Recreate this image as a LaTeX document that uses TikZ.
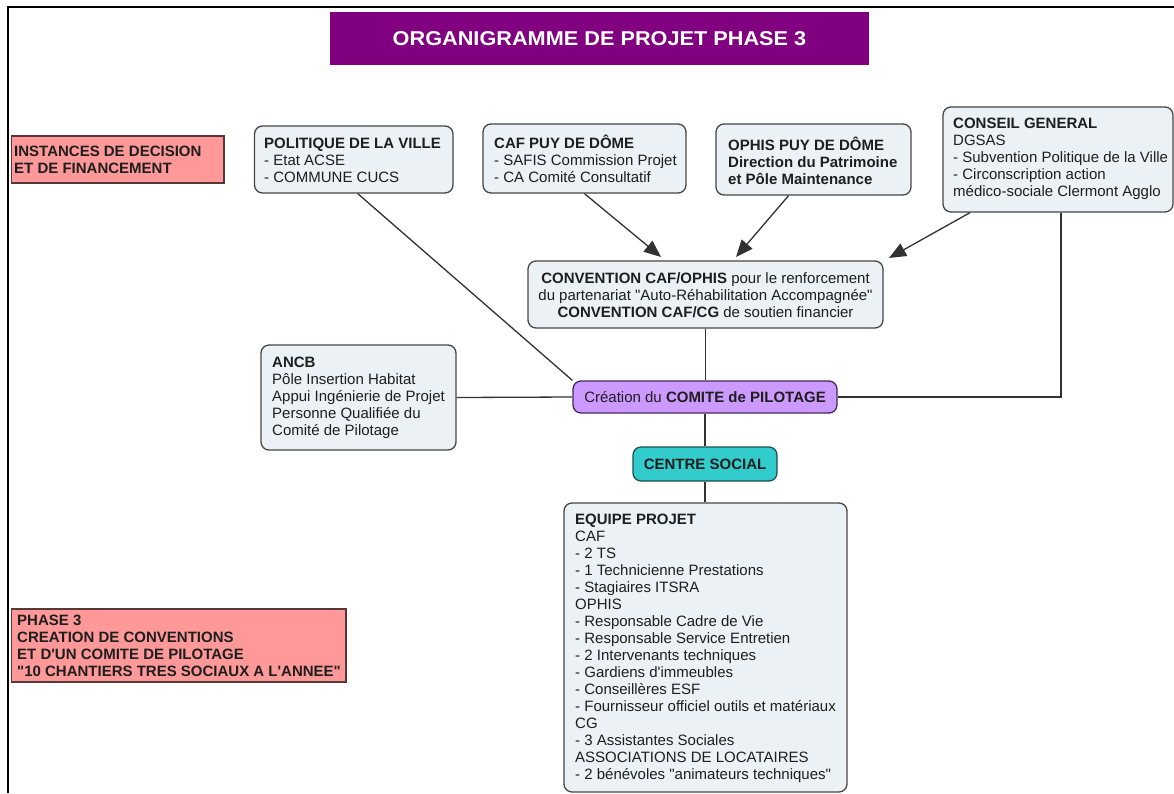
\documentclass[tikz,border=0pt]{standalone}
\usepackage{fontspec}
\setmainfont{Liberation Sans}
\usetikzlibrary{arrows.meta,calc}
\definecolor{boxfill}{RGB}{235,241,244}
\definecolor{boxline}{RGB}{70,70,70}
\definecolor{txt}{RGB}{30,30,30}
\definecolor{salmon}{RGB}{255,153,153}
\definecolor{salmonline}{RGB}{90,55,55}
\definecolor{titlepurple}{RGB}{128,0,128}
\definecolor{lilac}{RGB}{204,153,255}
\definecolor{lilacline}{RGB}{70,40,90}
\definecolor{teal2}{RGB}{51,204,204}
\definecolor{tealline}{RGB}{30,80,80}
\definecolor{linec}{RGB}{50,50,50}
\newcommand\bodyfont{\fontsize{15}{17}\selectfont}
\newcommand\ttlfont{\fontsize{20}{24}\selectfont\bfseries}
\newcommand\dq{\textquotedbl}
\newcommand\sq{\textquotesingle}
\tikzset{
  lbox/.style={draw=boxline, fill=boxfill, rounded corners=8pt, line width=1.3pt,
    inner sep=0pt},
  pinkbox/.style={draw=salmonline, fill=salmon, line width=1.3pt, inner sep=0pt},
  ltext/.style={anchor=west, inner sep=0pt, align=left, font=\bodyfont, text=txt},
  ctext/.style={inner sep=0pt, align=center, font=\bodyfont, text=txt},
  conn/.style={draw=linec, line width=1.3pt},
  arr/.style={-{Triangle[length=17pt,width=14pt]}}
}
\begin{document}
\begin{tikzpicture}[x=1pt,y=-1pt]
\useasboundingbox (0,0) rectangle (1174,793);
\fill[white] (0,0) rectangle (1174,793);
\draw[line width=2pt, black] (8,793) -- (8,7) -- (1174,7);

% title
\node[fill=titlepurple, minimum width=539pt, minimum height=53pt, inner sep=0pt, text=white, font=\ttlfont]
  (title) at (599.5,38.5) {\scalebox{1.085}[1]{ORGANIGRAMME DE PROJET PHASE 3}};

% side labels
\node[pinkbox, minimum width=212.5pt, minimum height=47pt] (inst) at (117.75,159.5) {};
\node[ltext, font=\bodyfont\bfseries] (instT) at (14,160) {INSTANCES DE DECISION\\ET DE FINANCEMENT};
\node[pinkbox, minimum width=334.5pt, minimum height=73pt] (phase) at (178.75,645.5) {};
\node[ltext, font=\bodyfont\bfseries] (phaseT) at (17,646)
  {PHASE 3\\CREATION DE CONVENTIONS\\ET D\sq UN COMITE DE PILOTAGE\\\dq 10 CHANTIERS TRES SOCIAUX A L\sq ANNEE\dq};

% top row
\node[lbox, minimum width=198.5pt, minimum height=67pt] (pol) at (353.75,159.5) {};
\node[ltext] (polT) at (264,160) {\textbf{POLITIQUE DE LA VILLE}\\- Etat ACSE\\- COMMUNE CUCS};
\node[lbox, minimum width=203pt, minimum height=69pt] (caf) at (584.5,158.5) {};
\node[ltext] (cafT) at (494,159) {\textbf{CAF PUY DE DÔME}\\- SAFIS Commission Projet\\- CA Comité Consultatif};
\node[lbox, minimum width=195pt, minimum height=71pt] (oph) at (813.5,159.5) {};
\node[ltext, font=\bodyfont\bfseries] (ophT) at (728,161) {OPHIS PUY DE DÔME\\Direction du Patrimoine\\et Pôle Maintenance};
\node[lbox, minimum width=230pt, minimum height=105pt] (cons) at (1058,159.5) {};
\node[ltext] (consT) at (953,159) {\textbf{CONSEIL GENERAL}\\DGSAS\\- Subvention Politique de la Ville\\- Circonscription action\\médico-sociale Clermont Agglo};

% middle
\node[lbox, minimum width=355pt, minimum height=67pt] (conv) at (705.5,294.5) {};
\node[ctext] (convT) at (705.5,295) {\textbf{CONVENTION CAF/OPHIS} pour le renforcement\\du partenariat \dq Auto-Réhabilitation Accompagnée\dq\\\textbf{CONVENTION CAF/CG} de soutien financier};
\node[lbox, minimum width=195pt, minimum height=105pt] (ancb) at (358.5,397.5) {};
\node[ltext] (ancbT) at (272,398) {\textbf{ANCB}\\Pôle Insertion Habitat\\Appui Ingénierie de Projet\\Personne Qualifiée du\\Comité de Pilotage};
\node[lbox, fill=lilac, draw=lilacline, minimum width=264pt, minimum height=32pt, font=\bodyfont, text=txt]
  (crea) at (705,397) {Création du \textbf{COMITE de PILOTAGE}};
\node[lbox, fill=teal2, draw=tealline, minimum width=144pt, minimum height=34pt, font=\bodyfont\bfseries, text=txt]
  (centre) at (705,464) {CENTRE SOCIAL};
\node[lbox, minimum width=283pt, minimum height=289pt] (equipe) at (705.5,647.5) {};
\node[ltext] (equipeT) at (575,648) {\textbf{EQUIPE PROJET}\\CAF\\- 2 TS\\- 1 Technicienne Prestations\\- Stagiaires ITSRA\\OPHIS\\- Responsable Cadre de Vie\\- Responsable Service Entretien\\- 2 Intervenants techniques\\- Gardiens d\sq immeubles\\- Conseillères ESF\\- Fournisseur officiel outils et matériaux\\CG\\- 3 Assistantes Sociales\\ASSOCIATIONS DE LOCATAIRES\\- 2 bénévoles \dq animateurs techniques\dq};

% arrow tips
\coordinate (tcaf) at (661,257);
\coordinate (toph) at (736,257);
\coordinate (tcons) at (889,258);

% connectors
\draw[conn] ($(pol.south)+(4,0)$) -- (crea.north west);
\draw[conn,arr] (caf.south) -- (tcaf);
\draw[conn,arr] ($(oph.south)+(-25,0)$) -- (toph);
\draw[conn,arr] ($(cons.south)+(-88,0)$) -- (tcons);
\draw[conn] ($(cons.south)+(3,0)$) |- (crea.east);
\draw[conn] (conv.south) -- (conv.south |- crea.north);
\draw[conn] (ancb.east) -- (crea.west);
\draw[conn] (crea.south) -- (centre.north);
\draw[conn] (centre.south) -- (centre.south |- equipe.north);
\end{tikzpicture}
\end{document}
